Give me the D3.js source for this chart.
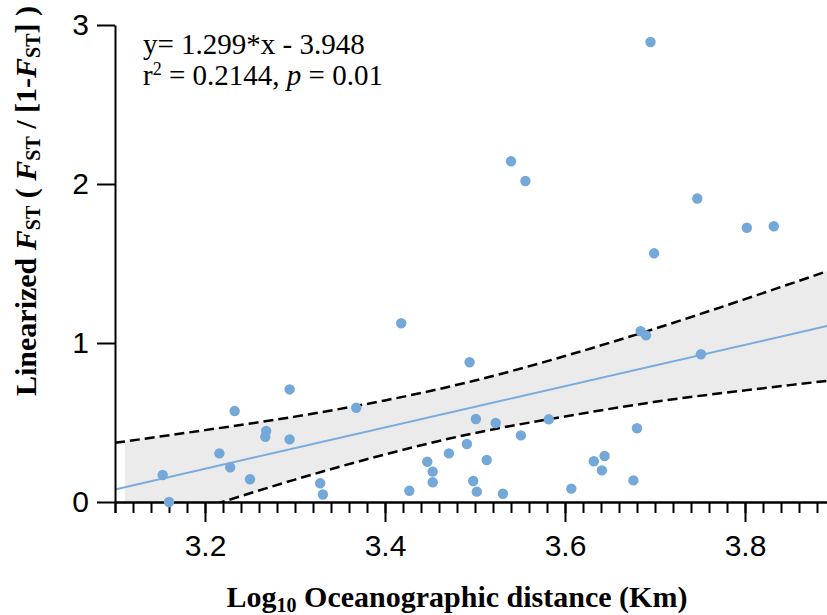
<!DOCTYPE html>
<html><head><meta charset="utf-8">
<script src="https://cdn.jsdelivr.net/npm/d3@7/dist/d3.min.js"></script>
<style>body{margin:0;background:#fff}svg{display:block}</style>
</head><body>
<svg id="c" width="827" height="615"></svg>
<script>
// Data points (log10 oceanographic distance, linearized Fst)
const xVals = [3.153,3.160,3.216,3.228,3.233,3.250,3.268,3.267,3.294,3.294,3.328,3.331,3.368,3.418,3.427,3.447,3.453,3.453,3.471,3.491,3.494,3.498,3.501,3.502,3.513,3.523,3.531,3.540,3.551,3.556,3.582,3.607,3.632,3.641,3.644,3.676,3.680,3.684,3.690,3.695,3.699,3.747,3.751,3.802,3.832];
const yVals = [0.170,0.000,0.306,0.218,0.572,0.143,0.447,0.410,0.708,0.394,0.118,0.047,0.593,1.124,0.071,0.253,0.191,0.124,0.306,0.365,0.879,0.132,0.522,0.065,0.264,0.497,0.052,2.143,0.419,2.019,0.520,0.084,0.256,0.199,0.289,0.136,0.464,1.075,1.048,2.893,1.564,1.909,0.929,1.725,1.734];
// Regression
const slope = 1.299, intercept = -3.948;
// Confidence band
const bandX = [3.1,3.2,3.3,3.4,3.5,3.6,3.7,3.8,3.9];
const bandUpper = [0.372,0.452,0.537,0.639,0.764,0.918,1.090,1.276,1.468];
const bandLower = [-0.214,-0.034,0.141,0.299,0.434,0.538,0.630,0.702,0.768];
const xMajorTicks = [3.2,3.4,3.6,3.8];
const yTicks = [0,1,2,3];

const svg = d3.select("#c");
const x = d3.scaleLinear().domain([3.1,3.9]).range([115,835]);
const y = d3.scaleLinear().domain([0,3]).range([502,25]);

svg.append("defs").append("clipPath").attr("id","plot")
  .append("rect").attr("x",115).attr("y",0).attr("width",720).attr("height",502);

const g = svg.append("g").attr("clip-path","url(#plot)");
const fillX = 3.111;
const bandData = bandX.map((d,i)=>({x:d,u:bandUpper[i],l:bandLower[i]}));
const upperFn = d3.line().x(d=>x(d.x)).y(d=>y(d.u)).curve(d3.curveNatural);
const lowerFn = d3.line().x(d=>x(d.x)).y(d=>y(d.l)).curve(d3.curveNatural);
const area = d3.area().x(d=>x(d.x)).y0(d=>y(d.l)).y1(d=>y(d.u)).curve(d3.curveNatural);

g.append("clipPath").attr("id","fillclip").append("rect")
  .attr("x",x(fillX)).attr("y",0).attr("width",835-x(fillX)).attr("height",502);
g.append("g").attr("clip-path","url(#fillclip)")
  .append("path").datum(bandData).attr("d",area).attr("fill","#ebebeb");

g.append("path").datum(bandData).attr("d",upperFn).attr("fill","none")
  .attr("stroke","#000").attr("stroke-width",2.5).attr("stroke-dasharray","10,5");
g.append("path").datum(bandData).attr("d",lowerFn).attr("fill","none")
  .attr("stroke","#000").attr("stroke-width",2.5).attr("stroke-dasharray","10,5");

const lineX = [3.1,3.9];
g.append("line").attr("x1",x(lineX[0])).attr("y1",y(slope*lineX[0]+intercept))
  .attr("x2",x(lineX[1])).attr("y2",y(slope*lineX[1]+intercept))
  .attr("stroke","#78acdc").attr("stroke-width",2);

// Axes
const minor = d3.range(0,41).map(i=>+(3.1+i*0.02).toFixed(2));
const xMinor = svg.append("g").attr("transform","translate(0,502)")
  .call(d3.axisBottom(x).tickValues(minor).tickSize(11).tickFormat(""));
const xMajor = svg.append("g").attr("transform","translate(0,502)")
  .call(d3.axisBottom(x).tickValues(xMajorTicks).tickSize(20).tickSizeOuter(0).tickPadding(13).tickFormat(d3.format(".1f")));
const yAx = svg.append("g").attr("transform","translate(115,0)")
  .call(d3.axisLeft(y).tickValues(yTicks).tickSize(18).tickSizeOuter(0).tickPadding(8).tickFormat(d3.format("d")));
[xMinor,xMajor,yAx].forEach(a=>{
  a.selectAll("path,line").attr("stroke","#000").attr("stroke-width",2);
  a.selectAll("text").attr("font-family","Liberation Sans, Arial, sans-serif").attr("font-size",30).attr("fill","#000");
});

// Points
svg.append("g").selectAll("circle").data(xVals).join("circle")
  .attr("cx",(d)=>x(d)).attr("cy",(d,i)=>y(yVals[i])).attr("r",5.2)
  .attr("fill","#74a8d8");

// Equation text
const serif = "Liberation Serif, Times New Roman, serif";
svg.append("text").attr("x",143).attr("y",54).attr("font-family",serif).attr("font-size",29)
  .text("y= 1.299*x - 3.948");
const t2 = svg.append("text").attr("x",143).attr("y",85).attr("font-family",serif).attr("font-size",29);
t2.append("tspan").text("r");
t2.append("tspan").attr("font-size",18).attr("dy",-10).text("2");
t2.append("tspan").attr("dy",10).text(" = 0.2144, ");
t2.append("tspan").attr("font-style","italic").text("p");
t2.append("tspan").text(" = 0.01");

// X title
const xt = svg.append("text").attr("x",457).attr("y",607).attr("text-anchor","middle")
  .attr("font-family",serif).attr("font-size",30).attr("font-weight","bold");
xt.append("tspan").text("Log");
xt.append("tspan").attr("font-size",20).attr("dy",5).text("10");
xt.append("tspan").attr("dy",-5).text(" Oceanographic distance (Km)");

// Y title
const yt = svg.append("text").attr("transform","translate(36,201) rotate(-90)").attr("text-anchor","middle")
  .attr("font-family",serif).attr("font-size",30).attr("font-weight","bold");
function fst(el){
  el.append("tspan").attr("font-style","italic").text("F");
  el.append("tspan").attr("font-size",20).attr("dy",4).text("ST");
  return el;
}
yt.append("tspan").text("Linearized ");
fst(yt);
yt.append("tspan").attr("dy",-4).text(" ( ");
fst(yt);
yt.append("tspan").attr("dy",-4).text(" / [1-");
fst(yt);
yt.append("tspan").attr("dy",-4).text("] )");
</script>
</body></html>
